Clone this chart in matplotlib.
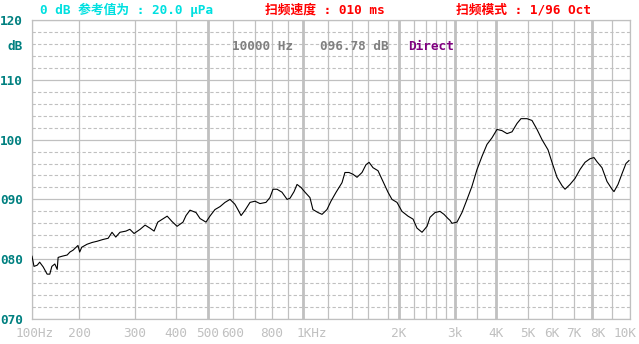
import numpy as np
import matplotlib
matplotlib.use("Agg")
import matplotlib.pyplot as plt
from matplotlib.transforms import ScaledTranslation

plt.rcParams['font.family'] = ['DejaVu Sans Mono', 'Noto Sans CJK SC']
plt.rcParams['font.size'] = 9.2

# 频率响应曲线 (Hz, dB)
freq = [100, 103, 108, 112, 118, 125, 130, 134, 140, 145, 147, 156, 168, 175, 183, 197,
        201, 204, 212, 220, 228, 238, 247, 254, 261, 269, 281, 289, 298,
        311, 322, 333, 343, 352, 376, 389, 403, 420, 429, 441, 460, 473, 493,
        507, 526, 546, 566, 587, 608, 621, 635, 653, 676, 700, 728, 763, 787,
        806, 830, 861, 894, 913, 939, 959, 986, 1015, 1052, 1075, 1116, 1149, 1191,
        1223, 1264, 1313, 1338, 1373, 1412, 1460, 1522, 1573, 1610, 1648, 1697, 1748,
        1800, 1870, 1962, 2038, 2118, 2187, 2248, 2332, 2420, 2478, 2580, 2678, 2759,
        2843, 2887, 2931, 3042, 3150, 3264, 3379, 3500, 3625, 3755, 3889, 4028, 4171,
        4320, 4472, 4631, 4761, 4965, 5154, 5355, 5560, 5820, 6000, 6214, 6436, 6573,
        6806, 7052, 7319, 7595, 7882, 8094, 8238, 8485, 8739, 9000, 9106, 9321, 9543,
        9767, 9942]
level = [80.5, 78.8, 79.0, 79.5, 78.7, 77.5, 77.5, 78.8, 79.2, 78.3, 80.3, 80.5, 80.7, 81.2, 81.5, 82.3,
         81.2, 82.0, 82.5, 82.8, 83.0, 83.3, 83.5, 84.5, 83.7, 84.5, 84.7, 85.0, 84.3,
         85.0, 85.7, 85.2, 84.7, 86.2, 87.2, 86.3, 85.5, 86.2, 87.3, 88.2, 87.8, 86.8, 86.2,
         87.2, 88.3, 88.8, 89.5, 90.0, 89.2, 88.3, 87.3, 88.2, 89.5, 89.7, 89.3, 89.5, 90.3,
         91.7, 91.7, 91.2, 90.0, 90.2, 91.3, 92.5, 92.0, 91.2, 90.3, 88.3, 87.8, 87.5, 88.3,
         89.7, 91.2, 92.8, 94.5, 94.5, 94.2, 93.7, 94.5, 95.8, 96.2, 95.3, 94.8, 93.0,
         91.2, 90.0, 89.5, 88.0, 87.2, 86.7, 85.2, 84.5, 85.5, 87.0, 87.8, 88.0, 87.5,
         86.8, 86.5, 86.0, 86.2, 87.8, 90.0, 92.2, 95.0, 97.2, 99.2, 100.3, 101.7, 101.5,
         101.0, 101.3, 102.7, 103.5, 103.5, 103.2, 101.7, 100.0, 98.3, 96.2, 93.7, 92.3, 91.7,
         92.5, 93.5, 95.0, 96.2, 96.8, 97.0, 96.3, 95.3, 93.0, 91.7, 91.3, 92.5, 94.3,
         96.0, 96.5]

# 网格频率 / 标注
grid_f = [100, 200, 300, 400, 500, 600, 700, 800, 900, 1000, 1200, 1400, 1600, 1800,
          2000, 2200, 2400, 2600, 2800, 3000, 3500, 4000, 5000, 6000, 7000, 8000, 9000, 10000]
thick_f = [500, 1000, 2000, 3000, 4000, 8000]
tick_f = [100, 200, 300, 400, 500, 600, 800, 1000, 2000, 3000, 4000, 5000, 6000, 7000, 8000, 10000]
tick_txt = ['100Hz', '200', '300', '400', '500', '600', '800', '1KHz',
            '2K', '3k', '4K', '5K', '6K', '7K', '8K', '10K']
y_ticks = [70, 80, 90, 100, 110, 120]
y_txt = ['070', '080', '090', '100', '110', '120']

# 仪器屏幕的非均匀频率刻度
warp = [32, 79, 135, 176, 208, 233, 255, 272, 288, 303, 328, 352, 368, 388,
        399, 414, 426, 436, 446, 455, 477, 496, 528, 552, 574, 592, 612, 630]
lg = np.log10(grid_f)


def fwd(f):
    f = np.clip(np.asarray(f, dtype=float), 1e-3, None)
    return np.interp(np.log10(f), lg, warp)


def inv(x):
    return 10 ** np.interp(x, warp, lg)


W, H = 639, 344
fig = plt.figure(figsize=(W / 100, H / 100), dpi=100)
ax = fig.add_axes([32 / W, 1 - 319 / H, 598 / W, 299 / H])
ax.set_xscale('function', functions=(fwd, inv))
ax.set_xlim(100, 10000)
ax.set_ylim(70, 120)

gc = '#c0c0c0'
for f in grid_f:
    ax.axvline(f, color=gc, lw=2.0 if f in thick_f else 0.9, zorder=1)
for v in range(70, 121, 2):
    if v % 10 == 0:
        ax.axhline(v, color=gc, lw=0.9, zorder=1)
    else:
        ax.axhline(v, color=gc, lw=0.8, ls=(0, (3, 2)), zorder=1)

ax.plot(freq, level, color='black', lw=0.8, zorder=3)

for s in ax.spines.values():
    s.set_color(gc)
    s.set_linewidth(0.9)

ax.set_xticks(tick_f, tick_txt)
ax.xaxis.set_minor_locator(matplotlib.ticker.NullLocator())
ax.set_yticks(y_ticks, y_txt)
ax.tick_params(axis='x', length=0, pad=6, colors=gc, labelsize=9.2)
ax.tick_params(axis='y', length=0, pad=6.5, colors='#008080', labelsize=9.2)
for t in ax.get_yticklabels():
    t.set_fontweight('bold')

# 部分横轴标注略有偏移 (像素)
shift = {'100Hz': 3, '1KHz': 9, '8K': 6, '10K': -5}
for t in ax.get_xticklabels():
    dx = shift.get(t.get_text(), 0)
    if dx:
        t.set_transform(t.get_transform() + ScaledTranslation(dx / 100, 0, fig.dpi_scale_trans))

fig.text(23 / W, 1 - 46 / H, 'dB', color='#008080', ha='right', va='center', fontweight='bold')

# 顶部信息
fig.text(40 / W, 1 - 10 / H, '0 dB 参考值为 : 20.0 μPa', color='#00e0e0', ha='left', va='center', fontweight='bold')
fig.text(265 / W, 1 - 10 / H, '扫频速度 : 010 ms', color='#ff0000', ha='left', va='center', fontweight='bold')
fig.text(456 / W, 1 - 10 / H, '扫频模式 : 1/96 Oct', color='#ff0000', ha='left', va='center', fontweight='bold')

fig.text(232 / W, 1 - 46 / H, '10000 Hz', color='#808080', ha='left', va='center', fontweight='bold')
fig.text(320 / W, 1 - 46 / H, '096.78 dB', color='#808080', ha='left', va='center', fontweight='bold')
fig.text(408 / W, 1 - 46 / H, 'Direct', color='#800080', ha='left', va='center', fontweight='bold')

fig.savefig('out.png', dpi=100, facecolor='white')
